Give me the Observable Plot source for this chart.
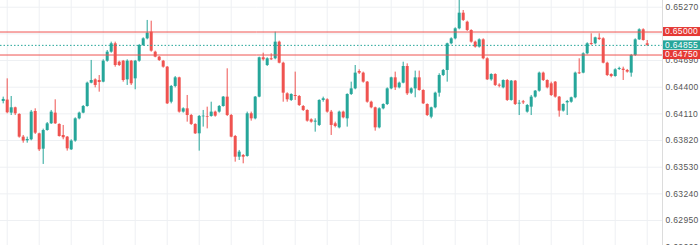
<!DOCTYPE html>
<html>
<head>
<meta charset="utf-8">
<script src="https://cdn.jsdelivr.net/npm/d3@7"></script>
<script src="https://cdn.jsdelivr.net/npm/@observablehq/plot@0.6"></script>
<style>
  html, body { margin: 0; padding: 0; background: #fff; }
  #chart svg text { letter-spacing: 0.35px; }
</style>
</head>
<body>
<div id="chart"></div>
<script>
const open = [
.64245,.64260,.64118,.64176,.64104,.63857,.63817,.63828,.64136,.63893,
.63726,.63929,.64002,.64118,.63995,.63875,.63857,.63719,.63814,.64056,
.64118,.64190,.64444,.64480,.64473,.64455,.64683,.64781,.64872,.64672,
.64683,.64480,.64683,.64491,.64683,.64854,.64926,.64999,.64781,.64727,
.64683,.64618,.64237,.64408,.64502,.64129,.64165,.64092,.63995,.63893,
.64078,.64078,.64082,.64129,.64129,.64190,.64292,.64092,.63864,.63639,
.63657,.63647,.64111,.64056,.64292,.64720,.64636,.64709,.64709,.64890,
.64661,.64328,.64256,.64310,.64299,.64190,.64147,.64045,.64020,.63984,
.64256,.64263,.64129,.64002,.63958,.64129,.64056,.64321,.64382,.64571,
.64553,.64455,.64237,.64176,.63958,.64165,.64212,.64382,.64502,.64393,
.64444,.64625,.64335,.64382,.64502,.64364,.64212,.64074,.64176,.64335,
.64527,.64582,.64872,.64926,.65035,.65205,.65107,.65017,.64890,.64836,
.64915,.64709,.64480,.64538,.64422,.64393,.64473,.64256,.64466,.64216,
.64241,.64129,.64183,.64292,.64357,.64553,.64473,.64437,.64455,.64292,
.64140,.64230,.64237,.64285,.64556,.64553,.64763,.64875,.64872,.64933,
.64926,.64661,.64538,.64516,.64593,.64596,.64582,.64553,.64745,.64915,
.65024,.64872
];
const high = [
.64292,.64491,.64299,.64183,.64111,.63875,.63857,.64147,.64165,.63900,
.63944,.64016,.64147,.64263,.64002,.63984,.63864,.63828,.64067,.64129,
.64201,.64455,.64691,.64491,.64527,.64698,.64799,.64890,.64890,.64683,
.64691,.64698,.64691,.64691,.64865,.64937,.65126,.65118,.64792,.64734,
.64691,.64625,.64419,.64516,.64509,.64176,.64310,.64104,.64002,.64092,
.64147,.64183,.64237,.64140,.64201,.64299,.64600,.64104,.63875,.63712,
.63668,.64129,.64129,.64299,.64727,.64770,.64720,.64763,.64999,.64901,
.64672,.64339,.64328,.64564,.64310,.64201,.64154,.64056,.64056,.64263,
.64292,.64274,.64147,.64020,.64140,.64140,.64328,.64455,.64636,.64589,
.64564,.64462,.64248,.64183,.64176,.64219,.64393,.64509,.64564,.64455,
.64672,.64654,.64393,.64575,.64575,.64372,.64219,.64183,.64346,.64546,
.64593,.64879,.64937,.65046,.65343,.65234,.65118,.65024,.64901,.64926,
.64926,.64720,.64546,.64546,.64437,.64480,.64484,.64473,.64473,.64256,
.64256,.64212,.64310,.64364,.64564,.64564,.64480,.64455,.64462,.64299,
.64219,.64256,.64292,.64564,.64709,.64774,.64883,.64981,.64944,.64981,
.64937,.64672,.64546,.64600,.64618,.64618,.64593,.64756,.64926,.65035,
.65035,.64908
];
const low = [
.64219,.64111,.64092,.64092,.63846,.63791,.63791,.63817,.63886,.63701,
.63560,.63922,.63995,.63995,.63857,.63828,.63705,.63712,.63802,.64045,
.64111,.64183,.64437,.64393,.64346,.64448,.64672,.64770,.64618,.64625,
.64455,.64419,.64419,.64372,.64672,.64843,.64915,.64781,.64720,.64680,
.64607,.64212,.64219,.64393,.64118,.64118,.64020,.63984,.63886,.63705,
.63966,.63947,.64074,.64074,.64118,.64183,.64081,.63850,.63585,.63603,
.63567,.63639,.64031,.64045,.64285,.64683,.64625,.64691,.64698,.64654,
.64237,.64237,.64245,.64256,.64190,.64136,.64020,.64009,.63911,.63973,
.64237,.64118,.63875,.63958,.63947,.64056,.63966,.64310,.64372,.64538,
.64444,.64226,.64165,.63922,.63947,.64154,.64201,.64372,.64364,.64382,
.64437,.64310,.64321,.64285,.64357,.64212,.64081,.64056,.64165,.64292,
.64516,.64455,.64861,.64915,.65024,.65115,.65006,.64879,.64825,.64825,
.64698,.64473,.64466,.64408,.64393,.64382,.64245,.64248,.64201,.64092,
.64212,.64118,.64092,.64281,.64346,.64462,.64382,.64299,.64281,.64074,
.64129,.64092,.64226,.64274,.64538,.64546,.64752,.64854,.64861,.64908,
.64654,.64516,.64502,.64509,.64582,.64473,.64553,.64509,.64734,.64908,
.64901,.64843
];
const close = [
.64267,.64122,.64176,.64111,.63857,.63814,.63831,.64129,.63900,.63719,
.63929,.64002,.64129,.64002,.63864,.63850,.63730,.63814,.64056,.64118,
.64190,.64444,.64473,.64419,.64451,.64683,.64781,.64872,.64636,.64636,
.64473,.64683,.64437,.64683,.64854,.64926,.64988,.64792,.64727,.64691,
.64618,.64219,.64408,.64502,.64129,.64165,.64092,.63995,.63893,.64082,
.64085,.64071,.64129,.64085,.64190,.64292,.64092,.63857,.63639,.63694,
.63639,.64111,.64056,.64292,.64720,.64698,.64709,.64698,.64890,.64661,
.64335,.64263,.64321,.64299,.64201,.64147,.64031,.64020,.64031,.64256,
.64274,.64129,.63984,.63973,.64129,.64067,.64321,.64382,.64553,.64553,
.64455,.64237,.64176,.63958,.64165,.64212,.64382,.64502,.64393,.64444,
.64625,.64328,.64382,.64502,.64364,.64219,.64092,.64176,.64335,.64527,
.64582,.64872,.64926,.65035,.65205,.65126,.65017,.64890,.64836,.64915,
.64709,.64480,.64538,.64419,.64411,.64473,.64256,.64466,.64212,.64226,
.64230,.64201,.64292,.64357,.64553,.64473,.64393,.64310,.64292,.64140,
.64212,.64245,.64285,.64553,.64546,.64763,.64872,.64865,.64937,.64919,
.64661,.64527,.64516,.64589,.64604,.64582,.64564,.64745,.64915,.65024,
.64908,.64855
];

// price scale grid levels; the 0.64980 label sits fully under the 0.65000 tag in the reference
const gridTicks = [0.65270, 0.64980, 0.64690, 0.64400, 0.64110, 0.63820, 0.63530, 0.63240, 0.62950, 0.62660];
const labelTicks = [0.65270, 0.64690, 0.64400, 0.64110, 0.63820, 0.63530, 0.63240, 0.62950, 0.62660];
const levelValues = [0.65000, 0.64750];
const lastPrice = 0.64855;
const levelLabels = [
  {value: 0.65000, kind: "level"},
  {value: 0.64855, kind: "last"},
  {value: 0.64750, kind: "level"}
];

const UP = "#26a69a", DOWN = "#ef5350", LEVEL = "#ef5350", BOX_RED = "#e53935";
const fmt = d3.format(".5f");

const data = open.map((o, k) => ({i: k + 1, open: o, high: high[k], low: low[k], close: close[k]}));
const colorOf = d => d.close >= d.open ? UP : DOWN;
const vGrid = d3.range(2, data.length + 1, 8);

function labelBoxes(index, scales, values, dimensions) {
  const g = d3.create("svg:g");
  const x0 = dimensions.width - dimensions.marginRight;
  for (const lb of levelLabels) {
    const y = scales.y(lb.value);
    g.append("rect")
      .attr("x", x0 + 1).attr("y", y - 4.5)
      .attr("width", dimensions.width - x0 - 1).attr("height", 9)
      .attr("fill", lb.kind === "last" ? UP : BOX_RED);
    g.append("text")
      .attr("x", x0 + 3).attr("y", y)
      .attr("dy", "0.34em")
      .attr("text-anchor", "start")
      .attr("fill", "#fff")
      .attr("font-size", 8.5)
      .text(fmt(lb.value));
  }
  return g.node();
}

const chart = Plot.plot({
  width: 700,
  height: 245,
  marginTop: 0,
  marginBottom: 0,
  marginLeft: 0,
  marginRight: 38,
  x: {domain: [0.325, 165.825], axis: null},
  y: {domain: [0.626785, 0.653429], axis: null},
  color: {type: "identity"},
  style: {background: "#fff", fontFamily: "'Liberation Sans', Arial, sans-serif", fontSize: "8.5px"},
  marks: [
    Plot.ruleY(gridTicks, {stroke: "#eef0f3"}),
    Plot.ruleX(vGrid, {stroke: "#eef0f3"}),
    Plot.ruleX(data, {x: "i", y1: "low", y2: "high", stroke: colorOf, strokeWidth: 1}),
    Plot.ruleX(data, {x: "i", y1: "open", y2: "close", stroke: colorOf, strokeWidth: 3}),
    Plot.ruleY(levelValues, {stroke: LEVEL, strokeWidth: 1}),
    Plot.ruleY([lastPrice], {stroke: UP, strokeDasharray: "1.5,2"}),
    Plot.frame({anchor: "right", stroke: "#dcdcdc"}),
    Plot.axisY({anchor: "right", ticks: labelTicks, tickFormat: fmt, tickSize: 0, tickPadding: 3, fill: "#555", fontSize: 8.5}),
    labelBoxes
  ]
});
document.getElementById("chart").appendChild(chart);
</script>
</body>
</html>
